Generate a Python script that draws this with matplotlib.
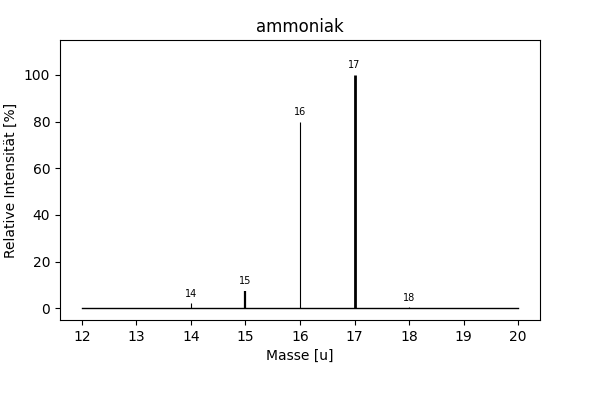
import matplotlib
matplotlib.use("Agg")
import matplotlib.pyplot as plt

masses = [14, 15, 16, 17, 18]
intensities = [2.2, 7.5, 80.0, 100.0, 0.4]
labels = ["14", "15", "16", "17", "18"]
mass_range = [12, 20]

fig, ax = plt.subplots(figsize=(6, 4), dpi=100)
fig.subplots_adjust(left=0.1, right=0.9, top=0.9, bottom=0.2)

ax.plot(mass_range, [0, 0], color="black", linewidth=1)
# peak line widths as they show up in the picture
peak_widths = [0.8, 1.6, 0.8, 2.0, 0.8]
ax.vlines(masses, 0, intensities, colors="black", linewidth=peak_widths)
for m, h, lab in zip(masses, intensities, labels):
    ax.text(m, h + 2, lab, ha="center", va="bottom", fontsize=7)

ax.set_ylim(-5, 115)
ax.set_xlabel("Masse [u]")
ax.set_ylabel("Relative Intensität [%]")
ax.set_title("ammoniak")

plt.savefig("out.png")
